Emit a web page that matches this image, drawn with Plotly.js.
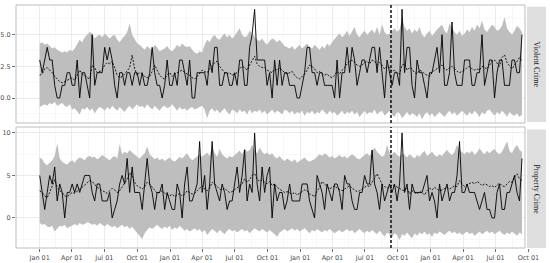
<!DOCTYPE html>
<html>
<head>
<meta charset="utf-8">
<script src="https://cdn.plot.ly/plotly-3.0.1.min.js"></script>
<style>html,body{margin:0;padding:0;background:#fff;}#chart{width:550px;height:263px;}</style>
</head>
<body>
<div id="chart"></div>
<script>
// ---- data (weekly, starting 2017-01-01) ----
const startDate = '2017-01-01';
const cutoffDate = '2019-09-12';
const panelLabels = ['Violent Crime', 'Property Crime'];
const tickDates = ['2017-01-01','2017-04-01','2017-07-01','2017-10-01','2018-01-01','2018-04-01','2018-07-01','2018-10-01','2019-01-01','2019-04-01','2019-07-01','2019-10-01','2020-01-01','2020-04-01','2020-07-01','2020-10-01'];
const tickLabels = ['Jan 01','Apr 01','Jul 01','Oct 01','Jan 01','Apr 01','Jul 01','Oct 01','Jan 01','Apr 01','Jul 01','Oct 01','Jan 01','Apr 01','Jul 01','Oct 01'];

const violentObserved = [
3,2,3,4,3,3,1,0,0,1, 1,2,2,1,1,3,0,2,2,1, 0,5,1,2,2,2,4,3,4,3, 1,0,2,2,1,2,2,1,2,2,
1,2,1,1,2,4,2,1,1,0, 1,3,1,1,2,1,3,3,2,1, 3,0,0,2,2,2,2,1,3,2, 4,4,1,1,2,2,1,1,2,1,
3,3,1,1,4,5,7,3,3,3, 3,1,2,0,3,1,3,1,2,2, 1,1,1,0,0,1,2,4,4,2, 2,1,2,2,1,1,1,1,0,3,
0,2,2,4,2,4,3,1,2,3, 3,2,3,4,4,2,4,2,0,3, 2,1,2,2,1,7,2,4,4,1, 0,3,2,2,1,0,2,2,3,4,
2,5,1,1,2,6,2,1,1,1, 3,3,3,1,1,2,2,5,1,2, 3,3,0,2,3,3,1,1,1,3, 3,2,2,5];
const violentPredicted = [
1.8,1.9,2.3,2.4,2.2,2.0,1.7,1.5,1.3,1.2, 1.3,1.4,1.5,1.6,1.4,1.8,2.2,1.9,1.8,1.6,
1.5,2.6,2.4,2.0,2.1,2.2,2.6,2.8,2.7,2.9, 2.4,1.8,1.6,1.7,1.9,2.2,2.4,3.4,2.3,1.8,
2.0,1.9,1.7,1.6,1.7,2.1,2.6,2.2,1.8,1.6, 1.5,1.8,2.0,1.7,1.9,2.0,2.1,2.2,2.0,1.9,
1.8,1.6,1.5,1.7,2.0,2.2,2.1,2.0,2.3,2.5, 2.8,2.9,2.5,2.2,2.0,1.9,2.0,1.8,1.9,2.0,
2.3,2.5,2.4,2.2,2.6,3.0,3.3,2.7,2.5,2.4, 2.4,2.2,2.1,2.0,2.3,2.2,2.4,2.2,2.0,1.9,
2.0,2.1,1.8,1.6,1.5,1.7,1.9,2.2,2.6,2.5, 2.3,2.0,2.1,1.9,1.8,1.9,1.7,1.6,1.8,2.1,
1.9,2.2,2.4,2.7,2.9,3.0,2.8,2.6,2.5,2.6, 2.8,2.9,2.7,3.0,2.9,2.6,2.8,2.6,2.3,2.5,
2.4,2.1,2.2,2.0,1.9,2.6,2.7,2.2,2.4,2.3, 2.0,1.9,2.2,2.1,1.9,1.8,1.7,2.0,2.2,2.3,
2.5,2.6,2.3,2.2,2.4,2.5,2.3,2.1,2.0,2.1, 2.2,2.4,2.5,2.3,2.2,2.3,2.2,2.5,2.4,2.3,
2.6,2.9,3.0,2.7,2.5,3.2,3.4,2.8,2.5,2.3, 2.6,2.9,3.2,2.9];
const violentUpper = [
4.3,4.4,4.2,4.3,4.1,3.9,4.0,3.8,3.7,3.6, 3.7,3.6,3.8,3.7,3.9,4.3,4.6,4.4,4.8,5.0,
5.2,5.1,4.7,4.9,5.0,4.8,5.1,4.9,4.7,4.9, 5.0,4.6,4.4,4.7,4.9,5.2,5.9,5.0,4.6,4.3,
4.2,4.0,3.8,4.1,3.9,3.8,4.2,4.0,3.7,3.8, 3.9,4.1,3.8,3.7,3.9,4.2,4.0,4.3,4.1,4.0,
4.1,3.8,3.6,3.5,3.7,3.6,4.2,4.6,4.4,4.8, 5.0,4.7,4.6,4.9,5.1,4.8,5.0,4.7,4.9,5.2,
5.5,5.0,4.8,4.9,5.3,5.1,4.8,4.6,4.5,4.7, 4.4,4.2,4.5,4.7,4.6,4.4,4.6,4.3,4.1,4.0,
3.9,4.1,3.8,4.0,4.2,3.9,4.1,4.3,4.0,3.9, 4.2,4.0,3.8,4.1,3.9,4.3,4.1,4.4,4.7,4.9,
5.1,4.8,5.0,5.3,4.9,5.2,5.6,5.0,4.8,5.1, 5.3,5.0,5.2,5.4,5.1,5.6,5.0,5.8,5.2,5.0,
5.1,5.3,5.5,5.2,5.4,6.2,5.6,5.3,5.5,5.1, 5.4,5.2,5.6,5.0,4.8,5.1,5.3,4.9,5.2,5.4,
5.6,5.8,5.3,5.1,5.9,5.5,5.2,5.0,5.3,4.9, 5.1,5.4,5.2,5.6,5.3,5.8,5.5,6.1,5.4,5.2,
5.5,5.8,5.6,5.3,5.4,5.7,6.4,5.5,5.2,5.0, 5.3,5.7,5.5,5.2];
const violentLower = [
-0.7,-0.6,-0.5,-0.6,-0.4,-0.5,-0.3,-0.6,-0.5,-0.4, -0.6,-0.7,-0.5,-0.9,-0.8,-1.1,-1.3,-0.8,-0.9,-0.7,
-1.0,-0.8,-1.2,-0.9,-0.7,-0.8,-1.0,-0.7,-0.9,-0.6, -0.8,-1.0,-0.7,-0.9,-1.1,-0.8,-0.6,-0.9,-0.7,-0.5,
-0.7,-0.6,-0.8,-0.5,-0.7,-0.9,-0.6,-0.8,-1.0,-0.7, -0.6,-0.8,-0.7,-0.5,-0.8,-1.0,-0.7,-0.9,-0.8,-1.0,
-0.8,-0.7,-0.9,-0.8,-0.7,-0.6,-0.9,-1.6,-1.0,-0.8, -1.1,-0.9,-1.2,-1.0,-0.8,-1.1,-1.3,-0.9,-1.0,-1.2,
-0.9,-1.1,-1.0,-1.3,-0.9,-1.2,-1.0,-1.1,-0.9,-1.2, -1.0,-1.3,-1.1,-0.9,-1.2,-1.0,-1.1,-1.3,-0.9,-1.0,
-1.2,-1.0,-1.3,-1.1,-1.2,-1.0,-1.4,-1.1,-1.2,-1.0, -1.3,-1.1,-1.2,-0.9,-1.1,-1.3,-1.0,-1.2,-1.1,-1.4,
-1.2,-1.0,-1.3,-1.1,-1.2,-1.0,-1.3,-1.1,-1.5,-1.2, -1.0,-1.3,-1.1,-1.2,-0.9,-1.3,-1.1,-1.0,-1.4,-1.2,
-1.0,-1.3,-1.5,-1.1,-1.2,-1.6,-1.3,-1.1,-1.4,-1.2, -1.3,-1.5,-1.2,-1.7,-1.3,-1.1,-1.4,-1.2,-1.5,-1.3,
-1.1,-1.3,-1.5,-1.2,-1.0,-1.3,-1.1,-1.4,-1.2,-1.0, -1.2,-1.4,-1.1,-1.3,-1.0,-1.2,-1.5,-1.1,-1.3,-1.0,
-0.9,-1.2,-1.4,-1.1,-1.3,-1.0,-1.2,-1.5,-1.1,-1.3, -1.4,-1.2,-1.5,-1.3];

const propertyObserved = [
5,3,1,3,5,4,6,2,4,3, 0,3,3,4,3,4,3,4,5,5, 5,3,2,4,4,2,2,2,3,0, 1,2,4,5,4,7,3,6,3,3,
3,1,4,7,4,3,1,3,3,4, 1,3,2,1,1,4,3,0,4,6, 2,2,3,4,9,3,5,1,4,9, 4,3,2,4,3,1,2,2,4,6,
3,5,8,2,4,3,10,4,2,6, 3,5,6,0,4,2,3,3,1,2, 4,2,2,2,2,4,4,4,2,1, 0,5,4,3,1,4,3,2,4,4,
3,1,5,4,4,2,1,1,3,3, 5,4,4,8,4,3,1,4,2,3, 4,3,4,2,4,10,3,4,1,4, 3,3,3,3,4,5,2,3,2,0,
4,2,3,4,2,3,3,5,9,3, 3,4,3,3,3,2,1,2,3,1, 1,0,0,3,4,1,1,3,3,4, 5,3,2,7];
const propertyPredicted = [
3.2,3.0,2.6,2.4,3.0,3.8,4.5,3.6,3.2,3.0, 2.6,2.5,2.8,3.0,2.9,3.2,3.4,3.6,3.9,4.2,
4.4,4.3,3.9,3.6,3.4,3.2,3.1,2.9,3.2,3.5, 3.3,3.0,3.2,3.6,4.1,4.6,5.3,4.9,4.2,3.8,
3.6,3.4,3.7,4.2,4.0,3.6,3.2,2.9,3.0,3.2, 2.9,2.7,2.6,2.8,2.5,2.7,2.9,2.6,2.8,3.2,
3.0,2.8,2.9,3.2,3.6,3.8,3.4,3.2,3.5,4.2, 4.0,3.7,3.4,3.3,3.5,3.2,3.0,3.1,3.3,3.6,
3.8,4.0,4.6,4.2,4.5,5.0,5.2,4.6,4.3,4.5, 4.2,4.0,4.3,3.8,4.0,3.6,3.4,3.2,3.0,3.1,
2.9,2.8,3.0,2.7,2.9,3.1,3.3,3.2,2.8,2.7, 2.5,3.2,3.6,4.3,4.0,3.7,3.4,3.6,3.8,3.5,
3.3,3.2,3.4,3.6,3.8,3.5,3.3,3.1,3.2,3.4, 3.6,3.8,3.7,4.2,4.8,5.2,4.6,4.0,3.7,3.5,
3.7,3.9,3.8,3.6,3.4,3.3,3.2,3.6,2.8,3.2, 3.0,2.8,3.1,3.0,2.7,3.2,3.5,3.3,3.6,3.4,
3.2,3.3,3.5,3.6,3.4,3.6,3.8,3.7,4.4,4.0, 3.7,3.9,4.1,4.2,4.0,4.3,4.1,3.8,4.0,3.9,
3.7,3.8,3.6,3.9,4.1,3.8,3.7,4.0,4.3,4.2, 4.8,5.2,4.6,4.4];
const propertyUpper = [
7.1,6.9,6.4,6.2,6.5,6.8,7.3,8.8,7.0,6.6, 6.4,6.3,6.6,6.8,6.5,6.9,7.1,7.0,6.8,7.2,
7.3,7.1,7.2,6.9,7.1,7.4,7.2,7.0,6.8,7.1, 7.3,7.0,8.7,7.5,7.8,7.6,8.0,7.7,7.4,7.2,
7.0,7.3,7.6,8.4,7.5,7.2,6.9,7.1,6.8,7.0, 6.7,6.9,7.1,6.8,6.6,6.9,7.2,7.0,7.3,7.6,
7.1,6.8,7.0,7.3,7.5,7.2,7.4,7.7,7.3,8.4, 7.6,7.2,8.1,7.5,7.2,7.0,7.3,7.1,7.4,7.7,
7.9,7.5,8.2,7.8,8.0,8.6,7.9,7.6,8.3,7.8, 7.5,7.7,7.4,7.6,7.2,7.0,7.3,6.9,6.7,7.0,
6.8,6.6,6.9,6.5,6.7,6.9,7.1,6.8,6.6,6.8, 6.9,7.2,7.5,7.3,7.6,7.4,7.1,7.3,7.0,7.2,
7.4,7.1,7.3,7.0,7.2,7.5,7.3,7.0,6.9,7.2, 7.4,7.6,7.3,7.9,8.3,7.8,7.5,7.2,7.4,8.6,
7.7,7.5,7.8,7.4,7.2,7.6,7.4,7.1,7.5,7.3, 7.0,7.4,7.2,7.6,7.9,7.3,7.6,7.8,7.4,7.2,
7.5,7.3,7.7,8.0,7.6,7.4,7.8,8.6,8.0,7.7, 7.5,7.8,7.6,7.9,7.4,7.7,8.2,7.8,7.5,7.9,
7.6,7.9,8.1,7.7,7.5,7.8,8.4,9.0,7.9,7.6, 8.2,8.6,8.0,7.8];
const propertyLower = [
-0.6,-0.8,-0.7,-1.0,-1.1,-0.9,-1.6,-1.2,-0.9,-1.0, -0.8,-1.2,-1.0,-0.8,-0.7,-0.9,-0.6,-0.8,-0.7,-0.5,
-0.6,-0.8,-0.7,-0.9,-0.6,-0.8,-1.0,-0.7,-0.9,-1.1, -0.9,-1.2,-1.0,-0.8,-1.1,-0.9,-1.3,-1.0,-1.4,-1.7,
-2.1,-2.5,-1.8,-1.4,-1.1,-1.3,-1.0,-0.8,-1.1,-1.3, -1.0,-1.2,-0.9,-1.4,-1.1,-1.3,-0.9,-1.2,-1.5,-1.3,
-1.6,-1.4,-1.2,-1.5,-1.3,-1.7,-1.4,-2.0,-1.6,-1.3, -1.5,-1.8,-1.4,-1.6,-1.9,-1.5,-1.3,-1.6,-1.4,-1.7,
-1.5,-1.3,-1.6,-1.4,-1.8,-1.5,-1.2,-1.4,-1.6,-1.3, -1.5,-1.7,-1.4,-1.6,-1.9,-2.2,-1.7,-1.5,-1.3,-1.6,
-1.4,-1.2,-1.5,-1.3,-1.6,-1.4,-1.2,-1.5,-1.8,-1.4, -1.6,-1.3,-1.5,-1.7,-1.4,-1.6,-1.3,-1.5,-1.8,-1.6,
-1.4,-1.7,-1.5,-1.3,-1.6,-1.4,-1.8,-1.5,-1.3,-1.6, -1.8,-1.5,-1.7,-1.4,-1.6,-1.9,-1.5,-1.8,-2.2,-1.7,
-1.9,-2.3,-1.8,-2.0,-2.6,-1.9,-2.1,-1.7,-2.0,-2.4, -1.8,-2.1,-1.7,-1.9,-1.6,-2.0,-1.8,-2.2,-1.7,-1.9,
-1.6,-1.8,-2.0,-1.7,-1.5,-1.8,-1.6,-1.9,-1.7,-2.0, -1.8,-1.6,-1.9,-1.7,-2.1,-1.8,-1.6,-1.9,-1.7,-1.5,
-1.8,-1.6,-1.9,-1.7,-1.5,-1.8,-2.0,-1.7,-1.9,-1.6, -1.8,-2.1,-1.7,-1.9];

// ---- weekly dates ----
function weekDates(n) {
  const t0 = Date.parse(startDate + 'T00:00:00Z');
  const out = [];
  for (let i = 0; i < n; i++) out.push(new Date(t0 + i * 7 * 86400000).toISOString().slice(0, 10));
  return out;
}
const dates = weekDates(violentObserved.length);

// minor grid between quarter ticks
const minorVals = [];
const extTicks = ['2016-10-01'].concat(tickDates).concat(['2021-01-01']);
for (let i = 0; i < extTicks.length - 1; i++) {
  const a = Date.parse(extTicks[i]), b = Date.parse(extTicks[i + 1]);
  minorVals.push(new Date((a + b) / 2).toISOString());
}

function panelTraces(lower, upper, pred, obs, xa, ya) {
  return [
    {x: dates, y: lower, xaxis: xa, yaxis: ya, type: 'scatter', mode: 'lines', line: {width: 0, color: '#bebebe'}, hoverinfo: 'skip'},
    {x: dates, y: upper, xaxis: xa, yaxis: ya, type: 'scatter', mode: 'lines', fill: 'tonexty', fillcolor: '#bebebe', line: {width: 0, color: '#bebebe'}, hoverinfo: 'skip'},
    {x: dates, y: obs, xaxis: xa, yaxis: ya, type: 'scatter', mode: 'lines', line: {width: 0.9, color: '#000000'}},
    {x: dates, y: pred, xaxis: xa, yaxis: ya, type: 'scatter', mode: 'lines', line: {width: 0.9, color: '#000000', dash: '2px,1.5px'}}
  ];
}

const data = panelTraces(violentLower, violentUpper, violentPredicted, violentObserved, 'x', 'y')
  .concat(panelTraces(propertyLower, propertyUpper, propertyPredicted, propertyObserved, 'x2', 'y2'));

const tickFont = {family: 'DejaVu Sans, sans-serif', size: 6.5, color: '#4d4d4d'};
const xRange = ['2016-10-26 14:38', '2020-11-19 05:00'];
const gridMajor = '#e6e6e6', gridMinor = '#f2f2f2';

function xAxis(anchor, showLabels) {
  return {
    anchor: anchor, domain: [0, 1], type: 'date', range: xRange,
    tickmode: 'array', tickvals: tickDates, ticktext: tickLabels,
    showticklabels: showLabels, ticks: showLabels ? 'outside' : '', ticklen: 3, tickwidth: 0.8, tickcolor: '#4d4d4d',
    tickfont: tickFont, showgrid: true, gridcolor: gridMajor, gridwidth: 0.8,
    minor: {tickmode: 'array', tickvals: minorVals, showgrid: true, gridcolor: gridMinor, gridwidth: 0.5, ticks: ''},
    zeroline: false, showline: false, fixedrange: true
  };
}
function yAxis(anchor, domain, range, vals, texts, minor) {
  return {
    anchor: anchor, domain: domain, range: range,
    tickmode: 'array', tickvals: vals, ticktext: texts,
    ticks: 'outside', ticklen: 3, tickwidth: 0.8, tickcolor: '#4d4d4d', tickfont: tickFont,
    showgrid: true, gridcolor: gridMajor, gridwidth: 0.8,
    minor: {tickmode: 'array', tickvals: minor, showgrid: true, gridcolor: gridMinor, gridwidth: 0.5, ticks: ''},
    zeroline: false, showline: false, fixedrange: true
  };
}

const panelRight = (525 - 16) / 530;
const stripLeft = (527 - 16) / 530;
const p1 = [0.5144, 1], p2 = [0, 0.498];

const shapes = [
  // gap between panel and strip
  {type: 'rect', xref: 'paper', yref: 'paper', x0: panelRight, x1: 1.0, y0: 0, y1: 1, fillcolor: '#ffffff', line: {width: 0}, layer: 'above'},
  // strips
  {type: 'rect', xref: 'paper', yref: 'paper', x0: stripLeft, x1: 1.0, y0: p1[0] + 0.004, y1: 0.993, fillcolor: '#dedede', line: {width: 0}, layer: 'above'},
  {type: 'rect', xref: 'paper', yref: 'paper', x0: stripLeft, x1: 1.0, y0: p2[0], y1: p2[1] - 0.01, fillcolor: '#dedede', line: {width: 0}, layer: 'above'},
  // panel borders
  {type: 'rect', xref: 'paper', yref: 'paper', x0: 0, x1: panelRight, y0: p1[0], y1: p1[1], line: {color: '#bdbdbd', width: 1}, layer: 'above'},
  {type: 'rect', xref: 'paper', yref: 'paper', x0: 0, x1: panelRight, y0: p2[0], y1: p2[1], line: {color: '#bdbdbd', width: 1}, layer: 'above'},
  // cutoff lines
  {type: 'line', xref: 'x', yref: 'y domain', x0: cutoffDate, x1: cutoffDate, y0: 0, y1: 1, line: {color: '#000', width: 1.4, dash: '3px,2px'}, layer: 'above'},
  {type: 'line', xref: 'x2', yref: 'y2 domain', x0: cutoffDate, x1: cutoffDate, y0: 0, y1: 1, line: {color: '#000', width: 1.4, dash: '3px,2px'}, layer: 'above'}
];

const stripFont = {family: 'Liberation Serif, serif', size: 8, color: '#1a1a1a'};
const annotations = [
  {xref: 'paper', yref: 'paper', x: (536.5 - 16) / 530, y: (p1[0] + 1) / 2, text: panelLabels[0], showarrow: false, textangle: 90, font: stripFont, xanchor: 'center', yanchor: 'middle'},
  {xref: 'paper', yref: 'paper', x: (536.5 - 16) / 530, y: (p2[0] + p2[1] - 0.01) / 2, text: panelLabels[1], showarrow: false, textangle: 90, font: stripFont, xanchor: 'center', yanchor: 'middle'}
];

const layout = {
  width: 550, height: 263,
  margin: {l: 16, r: 4, t: 5, b: 15, pad: 0},
  paper_bgcolor: '#ffffff', plot_bgcolor: '#ffffff',
  showlegend: false,
  xaxis: Object.assign(xAxis('y', false), {matches: 'x2'}),
  xaxis2: xAxis('y2', true),
  yaxis: yAxis('x', p1, [-1.97, 7.34], [0, 2.5, 5], ['0.0', '2.5', '5.0'], [-1.25, 1.25, 3.75, 6.25]),
  yaxis2: yAxis('x2', p2, [-3.53, 10.7], [0, 5, 10], ['0', '5', '10'], [-2.5, 2.5, 7.5]),
  shapes: shapes,
  annotations: annotations
};

Plotly.newPlot('chart', data, layout, {staticPlot: true, displayModeBar: false});
</script>
</body>
</html>
